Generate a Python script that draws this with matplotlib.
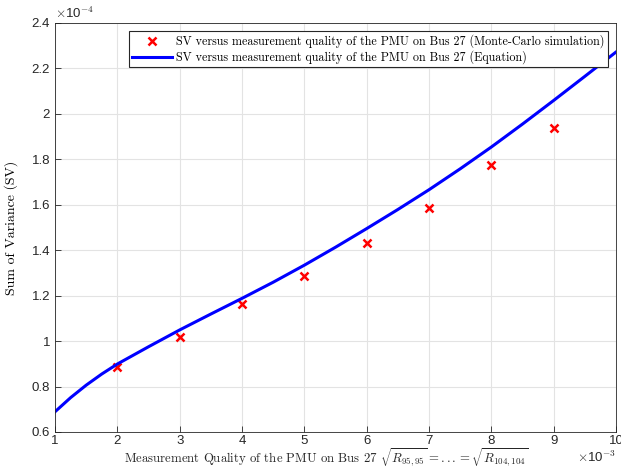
import numpy as np
import matplotlib
matplotlib.use('Agg')
from matplotlib import pyplot as plt

# Monte-Carlo points (x in 1e-3, y in 1e-4)
mc_x = [2, 3, 4, 5, 6, 7, 8, 9]
mc_y = [0.887, 1.019, 1.163, 1.288, 1.430, 1.587, 1.775, 1.937]

# equation curve
eq_x = [1, 1.25, 1.5, 1.75, 2, 2.5, 3, 3.5, 4, 4.5, 5, 5.5, 6, 6.5, 7, 7.5, 8, 8.5, 9, 9.5, 10]
eq_y = [0.689, 0.751, 0.806, 0.855, 0.899, 0.975, 1.049, 1.119, 1.188, 1.259, 1.334,
        1.413, 1.495, 1.579, 1.666, 1.758, 1.854, 1.955, 2.059, 2.165, 2.272]

xticks = [1, 2, 3, 4, 5, 6, 7, 8, 9, 10]
yticks = [0.6, 0.8, 1, 1.2, 1.4, 1.6, 1.8, 2, 2.2, 2.4]
yticklabels = ['0.6', '0.8', '1', '1.2', '1.4', '1.6', '1.8', '2', '2.2', '2.4']

plt.rcParams['mathtext.fontset'] = 'cm'
tick_font = 'Liberation Sans'
tex_font = 'cmr10'

fig = plt.figure(figsize=(6.21, 4.68), dpi=100)
ax = fig.add_axes([0.0886, 0.077, 0.9034, 0.874])

ax.plot(mc_x, mc_y, 'x', color='red', ms=6, mew=1.8,
        label='SV versus measurement quality of the PMU on Bus 27 (Monte-Carlo simulation)')
ax.plot(eq_x, eq_y, '-', color='blue', lw=2.2, solid_joinstyle='round',
        label='SV versus measurement quality of the PMU on Bus 27 (Equation)')

ax.set_xlim(1, 10)
ax.set_ylim(0.6, 2.4)
ax.set_xticks(xticks)
ax.set_xticklabels([str(v) for v in xticks], family=tick_font, fontsize=9.5)
ax.set_yticks(yticks)
ax.set_yticklabels(yticklabels, family=tick_font, fontsize=9.5)
ax.tick_params(direction='in', length=4, width=0.6, color='#262626', labelcolor='#262626')
ax.tick_params(axis='x', pad=2)
ax.grid(True, color='#e3e3e3', lw=0.8)
ax.set_axisbelow(True)
for s in ax.spines.values():
    s.set_color('#262626')
    s.set_linewidth(0.6)

ax.set_ylabel('Sum of Variance (SV)', family=tex_font, fontsize=10, labelpad=10)
fig.text(0.525, 0.011,
         r'Measurement Quality of the PMU on Bus 27 $\sqrt{R_{95,95}}=...=\sqrt{R_{104,104}}$',
         family=tex_font, fontsize=9.2, ha='center', va='baseline', color='#262626')

# exponent labels like MATLAB
fig.text(0.088, 0.955, r'$\times$10$^{-4}$', family=tick_font, fontsize=9.5,
         ha='left', va='bottom', color='#262626')
fig.text(0.992, 0.012, r'$\times$10$^{-3}$', family=tick_font, fontsize=9.5,
         ha='right', va='baseline', color='#262626')

leg = ax.legend(loc='upper right', prop={'family': tex_font, 'size': 8.7},
                fancybox=False, edgecolor='#262626', framealpha=1,
                borderpad=0.25, handlelength=3.3, handletextpad=0.35,
                labelspacing=0.2, borderaxespad=0.7)
leg.get_frame().set_linewidth(0.8)

fig.savefig('out.png', dpi=100)
